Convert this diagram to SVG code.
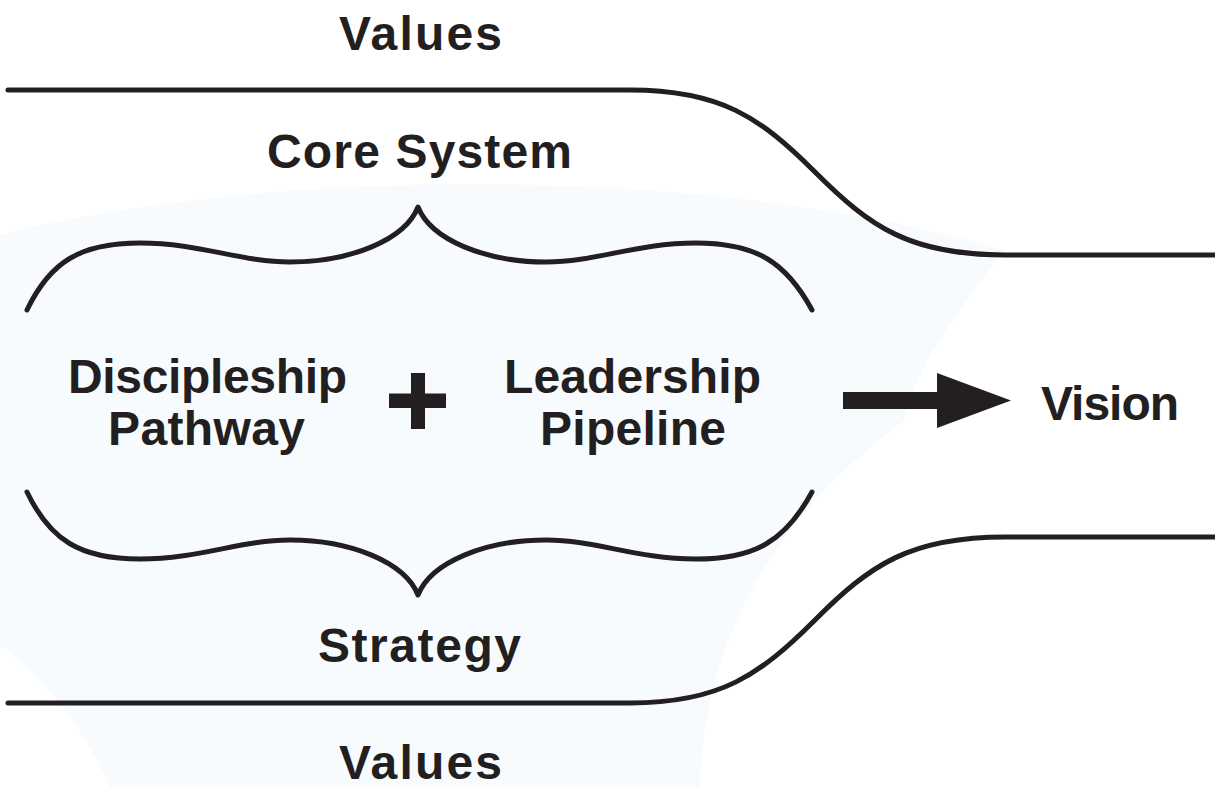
<svg xmlns="http://www.w3.org/2000/svg" width="1215" height="787" viewBox="0 0 1215 787">
  <style>
    .lbl { font-family: "Liberation Sans", Arial, sans-serif; font-weight: bold; font-size: 48px; fill: #231f20; text-anchor: middle; }
    .ln { fill: none; stroke: #231f20; stroke-width: 5; stroke-linecap: round; stroke-linejoin: round; }
    .solid { fill: #231f20; stroke: none; }
  </style>
  <rect width="1215" height="787" fill="#ffffff"/>
  <path d="M0,235 C250,170 700,160 1005,250 C950,320 915,370 905,420 C770,520 705,640 700,787 L110,787 C80,720 40,675 0,645 Z" fill="#f8fbfd"/>

  <g id="connectors">
    <path id="top-boundary" class="ln" d="M8,90 H630 C720,90 760,117 815,172 C870,227 910,255 1005,255 H1215"/>
    <path id="bottom-boundary" class="ln" d="M8,703 H630 C720,703 760,675 815,620 C870,565 910,537 1005,537 H1215"/>
    <path id="arrow" class="solid" d="M843,392 H937 V373 L1011,400.5 L937,428 V409 H843 Z"/>
  </g>

  <g id="values-top"><text class="lbl" x="420.5" y="50" textLength="163">Values</text></g>
  <g id="core-system"><text class="lbl" x="419.5" y="168" textLength="305">Core System</text></g>
  <g id="top-brace">
    <path class="ln" d="M27,310 C50,262 80,243 140,243 C200,243 240,262 290,262 C350,262 405,240 418,207 C431,240 486,262 546,262 C596,262 636,243 696,243 C756,243 786,262 812,310"/>
  </g>
  <g id="discipleship-pathway">
    <text class="lbl" x="207.5" y="393" textLength="279">Discipleship</text>
    <text class="lbl" x="206.5" y="445" textLength="197">Pathway</text>
  </g>
  <g id="plus"><path class="solid" d="M411,373 H425 V393.5 H446 V408 H425 V429 H411 V408 H389 V393.5 H411 Z"/></g>
  <g id="leadership-pipeline">
    <text class="lbl" x="632.5" y="393" textLength="257">Leadership</text>
    <text class="lbl" x="633" y="445" textLength="186">Pipeline</text>
  </g>
  <g id="vision"><text class="lbl" x="1110" y="420" textLength="138">Vision</text></g>
  <g id="bottom-brace">
    <path class="ln" d="M27,492 C50,540 80,559 140,559 C200,559 240,540 290,540 C350,540 405,562 418,595 C431,562 486,540 546,540 C596,540 636,559 696,559 C756,559 786,540 812,492"/>
  </g>
  <g id="strategy"><text class="lbl" x="419.5" y="662" textLength="203">Strategy</text></g>
  <g id="values-bottom"><text class="lbl" x="420.5" y="779" textLength="163">Values</text></g>
</svg>
